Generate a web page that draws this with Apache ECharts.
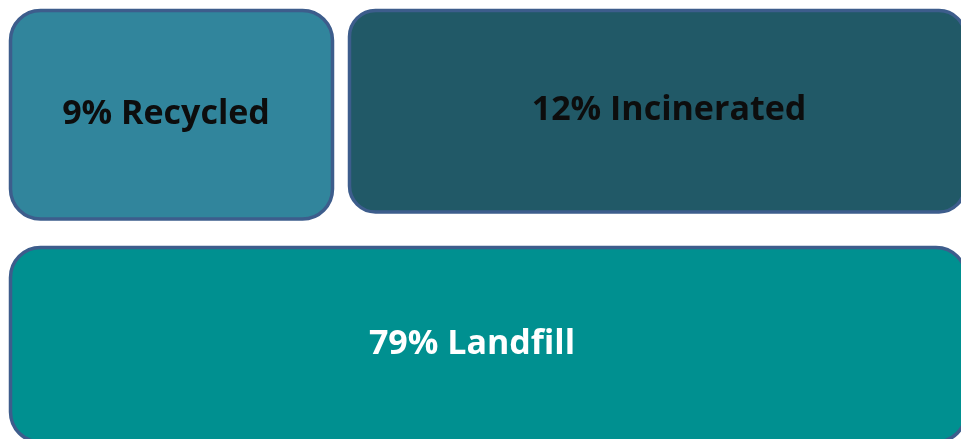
<!DOCTYPE html>
<html>
<head>
<meta charset="utf-8">
<style>
  html, body { margin: 0; padding: 0; background: #ffffff; }
  #chart { width: 961px; height: 439px; }
</style>
<script src="https://cdn.jsdelivr.net/npm/echarts@6/dist/echarts.min.js"></script>
</head>
<body>
<div id="chart"></div>
<script>
// Where the waste ends up (share of total, %)
const categories = ['Recycled', 'Incinerated', 'Landfill'];
const shares = [9, 12, 79];

// Tile layout in axis units: [x0, y0, x1, y1, labelX, labelY, cornerRadius]
const tiles = [
  [10.5, 10.5, 332.5, 219, 166, 114, 30],
  [349.5, 10.5, 965, 212, 669, 110, 26],
  [10.5, 247.5, 966, 442, 472, 344, 30]
];
const fills = ['#31859c', '#215967', '#009090'];
const textColors = ['#0d0d0d', '#0d0d0d', '#ffffff'];

const data = categories.map((name, i) => ({
  name: name,
  value: [i, shares[i]]
}));

const chart = echarts.init(document.getElementById('chart'), null, { renderer: 'canvas' });

chart.setOption({
  animation: false,
  grid: { left: 0, right: 0, top: 0, bottom: 0 },
  xAxis: { type: 'value', min: 0, max: 961, show: false },
  yAxis: { type: 'value', min: 0, max: 439, inverse: true, show: false },
  series: [{
    type: 'custom',
    coordinateSystem: 'cartesian2d',
    data: data,
    renderItem: function (params, api) {
      const i = api.value(0);
      const t = tiles[i];
      const p0 = api.coord([t[0], t[1]]);
      const p1 = api.coord([t[2], t[3]]);
      const pl = api.coord([t[4], t[5]]);
      return {
        type: 'group',
        children: [{
          type: 'rect',
          shape: {
            x: p0[0], y: p0[1],
            width: p1[0] - p0[0], height: p1[1] - p0[1],
            r: t[6]
          },
          style: { fill: fills[i], stroke: '#3d5d8c', lineWidth: 3.5 }
        }, {
          type: 'text',
          style: {
            x: pl[0], y: pl[1],
            text: api.value(1) + '% ' + categories[i],
            fill: textColors[i],
            font: 'bold 34px "Open Sans", "Noto Sans", sans-serif',
            align: 'center',
            verticalAlign: 'middle'
          }
        }]
      };
    }
  }]
});
</script>
</body>
</html>
